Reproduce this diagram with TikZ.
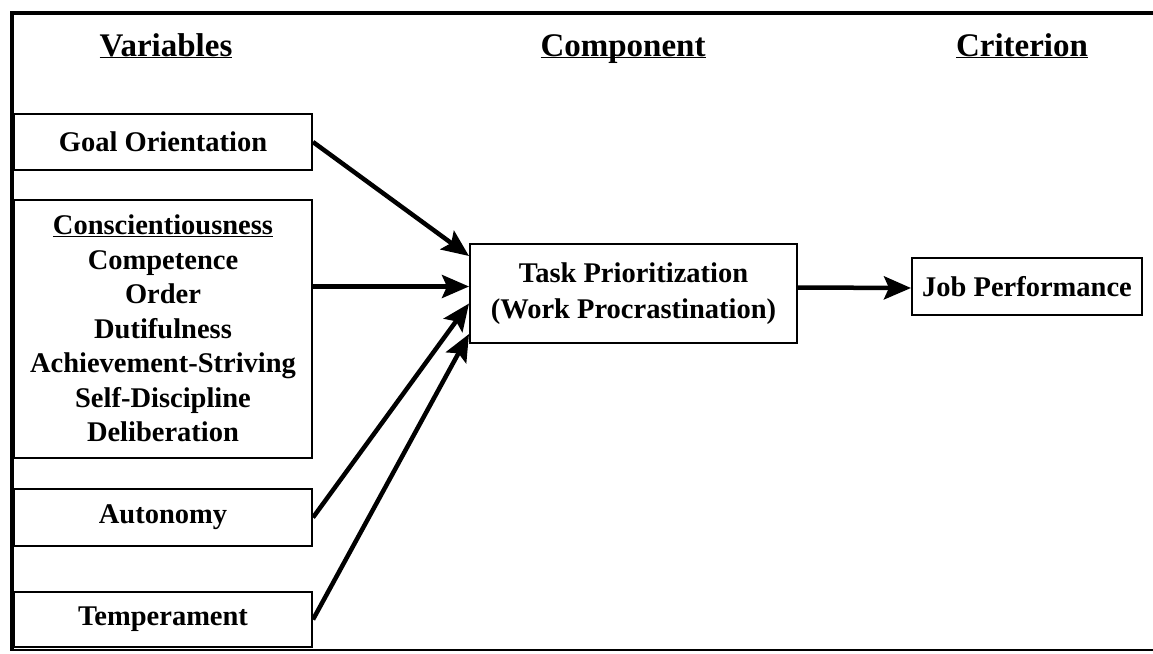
\documentclass[tikz,border=0pt]{standalone}
\usepackage{fontspec}
\setmainfont{Liberation Serif}
\usetikzlibrary{arrows.meta,calc}
\newcommand{\hdrul}[1]{\underline{\raisebox{0pt}[\height][0pt]{#1}}}
\tikzset{
  box/.style={draw, line width=2pt, inner sep=0pt, align=center,
    font=\fontsize{28.5}{34.5}\selectfont\bfseries},
  hdr/.style={inner sep=0pt, anchor=base, font=\fontsize{33}{38}\selectfont\bfseries},
  arr/.style={line width=4.5pt, -{Stealth[length=27pt 0 0,width=23pt 0 0,inset=5pt]}},
  frame/.style={line width=4.5pt}
}
\begin{document}
\begin{tikzpicture}[x=1pt,y=-1pt]
\useasboundingbox (0,0) rectangle (1153,653);
% frame
\coordinate (ftl) at (10,13);
\coordinate (ftr) at (1153,13);
\coordinate (fbl) at (10,650);
\coordinate (fbr) at (1153,650);
\draw[frame] (ftl) -- (ftr);
\draw[line width=2.5pt] (fbl) -- (fbr);
\draw[line width=4pt] ($(ftl)+(2,-2)$) -- ($(fbl)+(2,1)$);
% headers
\node[hdr] (h1) at (166,56) {\hdrul{Variables}};
\node[hdr] (h2) at (623,56) {\hdrul{Component}};
\node[hdr] (h3) at (1022,56) {\hdrul{Criterion}};
% left boxes
\node[box, minimum width=298pt, minimum height=56pt] (goal) at (163,142) {Goal Orientation};
\node[box, minimum width=298pt, minimum height=258pt] (consc) at (163,328.5)
  {\hdrul{Conscientiousness}\\Competence\\Order\\Dutifulness\\Achievement-Striving\\Self-Discipline\\Deliberation};
\node[box, minimum width=298pt, minimum height=57pt] (auto) at (163,517.5) {Autonomy};
\node[box, minimum width=298pt, minimum height=55pt] (temp) at (163,619.5) {Temperament};
% task
\node[box, minimum width=327pt, minimum height=99pt, font=\fontsize{28.5}{36}\selectfont\bfseries] (task) at (633.5,293.5)
  {Task Prioritization\\(Work Procrastination)};
% job
\node[box, minimum width=230pt, minimum height=57pt] (job) at (1027,286.5) {Job Performance};
% connectors
\draw[arr] (goal.east) -- ($(task.north west)+(0,13)$);
\draw[arr] ($(consc.east)+(0,-42)$) -- ($(task.west)+(0,-7)$);
\draw[arr] (auto.east) -- ($(task.west)+(0,10)$);
\draw[arr] (temp.east) -- ($(task.south west)+(0,-10)$);
\draw[arr] ($(task.east)+(0,-6)$) -- ($(job.west)+(0,1.5)$);
\end{tikzpicture}
\end{document}
